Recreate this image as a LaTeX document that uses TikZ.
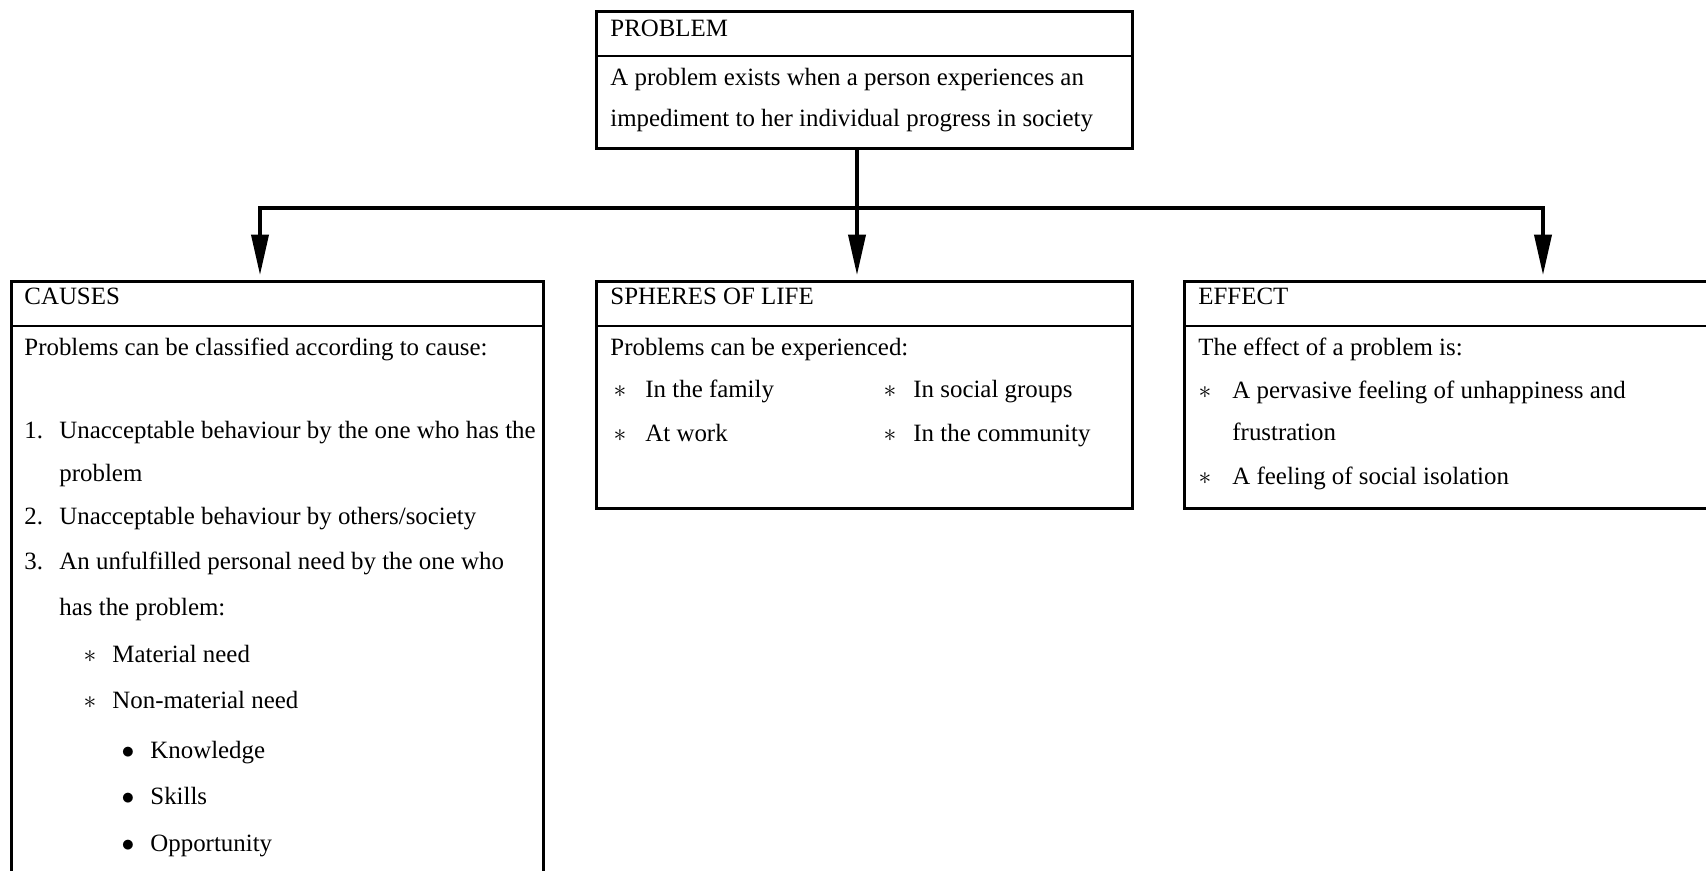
\documentclass[tikz,border=0pt]{standalone}
\usepackage{fontspec}
\setmainfont{Liberation Serif}
\usetikzlibrary{positioning,arrows.meta,calc}
\newlength{\unitpx}
\setlength{\unitpx}{0.47pt}

\begin{document}
\begin{tikzpicture}[
  x=\unitpx, y=-\unitpx,
  every node/.style={font=\fontsize{11.7}{14}\selectfont},
  panel/.style={draw, line width=1.6pt, rectangle, inner sep=0pt, anchor=north west},
  split/.style={line width=0.8pt},
  txt/.style={anchor=west, inner sep=0pt, text height=8.2pt, text depth=2.3pt},
  sym/.style={anchor=center, inner sep=0pt, text height=8.2pt, text depth=2.3pt},
  link/.style={line width=1.7pt},
  arrow/.style={link, -{Triangle[width=8pt, length=19pt]}, shorten >=2.3pt}
]
  \useasboundingbox (0,0) rectangle (1706,871);
  \clip (0,0) rectangle (1706,871);

  % boxes
  \node[panel, minimum width=536\unitpx, minimum height=137\unitpx] (problem) at (595,10) {};
  \node[panel, minimum width=532\unitpx, minimum height=640\unitpx] (causes) at (10,280) {};
  \node[panel, minimum width=536\unitpx, minimum height=227\unitpx] (spheres) at (595,280) {};
  \node[panel, minimum width=536\unitpx, minimum height=227\unitpx] (effect) at (1183,280) {};

  \foreach \b in {problem,causes,spheres,effect}
    \draw[split] ([yshift=-46\unitpx]\b.north west) -- ([yshift=-46\unitpx]\b.north east);

  % problem
  \node[txt] (problem-head) at (610,30) {PROBLEM};
  \node[txt] (problem-l1) at (610,79) {A problem exists when a person experiences an};
  \node[txt] (problem-l2) at (610,120) {impediment to her individual progress in society};

  % causes
  \node[txt] (causes-head) at (24,298) {CAUSES};
  \node[txt] (causes-intro) at (24,349) {Problems can be classified according to cause:};
  \node[txt] (num1) at (24,432) {1.};
  \node[txt] (cause1a) at (59,432) {Unacceptable behaviour by the one who has the};
  \node[txt] (cause1b) at (59,475) {problem};
  \node[txt] (num2) at (24,518) {2.};
  \node[txt] (cause2) at (59,518) {Unacceptable behaviour by others/society};
  \node[txt] (num3) at (24,563) {3.};
  \node[txt] (cause3a) at (59,563) {An unfulfilled personal need by the one who};
  \node[txt] (cause3b) at (59,609) {has the problem:};
  \foreach \y/\t [count=\i] in {656/Material need, 702/Non-material need} {
    \node[sym] (need-sym\i) at (90,\y) {$\ast$};
    \node[txt] (need\i) at (112,\y) {\t};
  }
  \foreach \y/\t [count=\i] in {752/Knowledge, 798/Skills, 845/Opportunity} {
    \node[sym] (lack-sym\i) at (128,\y) {$\bullet$};
    \node[txt] (lack\i) at (150,\y) {\t};
  }

  % spheres of life
  \node[txt] (spheres-head) at (610,298) {SPHERES OF LIFE};
  \node[txt] (spheres-intro) at (610,349) {Problems can be experienced:};
  \foreach \y/\t/\u [count=\i] in {391/In the family/In social groups, 435/At work/In the community} {
    \node[sym] (sphere-sym\i) at (620,\y) {$\ast$};
    \node[txt] (sphere\i) at (645,\y) {\t};
    \node[sym] (sphere-symr\i) at (890,\y) {$\ast$};
    \node[txt] (spherer\i) at (913,\y) {\u};
  }

  % effect
  \node[txt] (effect-head) at (1198,298) {EFFECT};
  \node[txt] (effect-intro) at (1198,349) {The effect of a problem is:};
  \node[sym] (effect-sym1) at (1205,392) {$\ast$};
  \node[txt] (effect1a) at (1232,392) {A pervasive feeling of unhappiness and};
  \node[txt] (effect1b) at (1232,434) {frustration};
  \node[sym] (effect-sym2) at (1205,478) {$\ast$};
  \node[txt] (effect2) at (1232,478) {A feeling of social isolation};

  % connectors
  \coordinate (bus) at (857,208);
  \coordinate (drop-l) at (260,208);
  \coordinate (drop-r) at (1543,208);
  \draw[arrow] (bus |- problem.south) -- (bus |- spheres.north);
  \draw[arrow] (bus) -- (drop-l) -- (drop-l |- causes.north);
  \draw[arrow] (bus) -- (drop-r) -- (drop-r |- effect.north);
\end{tikzpicture}
\end{document}
